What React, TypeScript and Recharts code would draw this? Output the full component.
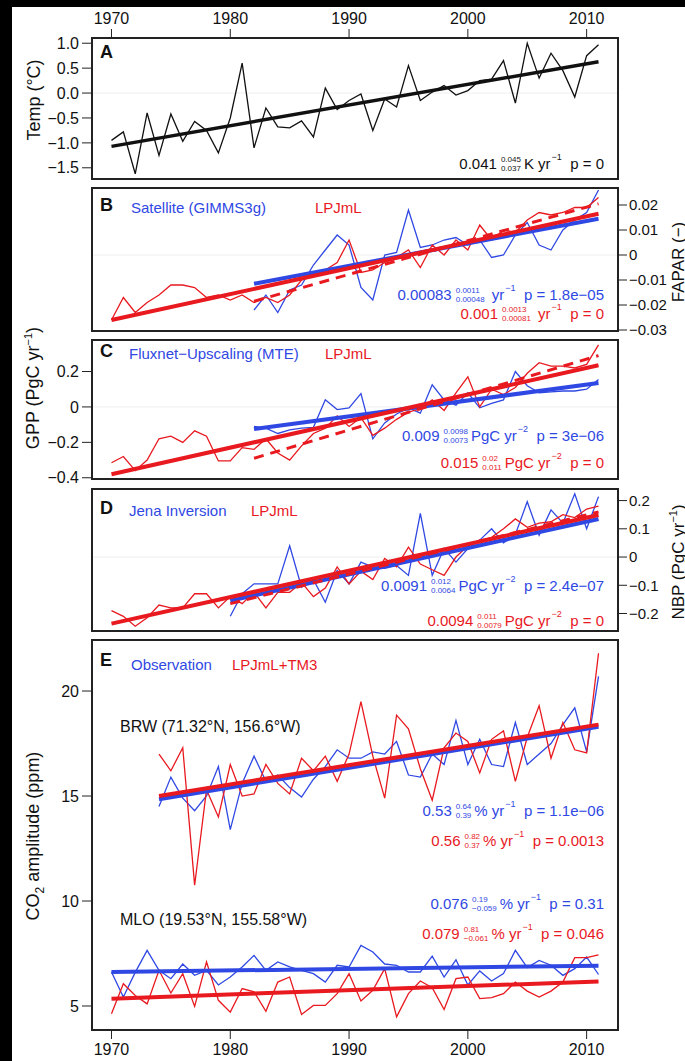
import React from 'react';
import { LineChart, Line, XAxis, YAxis, ReferenceLine } from 'recharts';

const FONT = "'Liberation Sans', Arial, Helvetica, sans-serif";
const BLUE = '#2f48e3';
const RED = '#e8191f';

const years = [
  1970, 1971, 1972, 1973, 1974, 1975, 1976, 1977, 1978, 1979,
  1980, 1981, 1982, 1983, 1984, 1985, 1986, 1987, 1988, 1989,
  1990, 1991, 1992, 1993, 1994, 1995, 1996, 1997, 1998, 1999,
  2000, 2001, 2002, 2003, 2004, 2005, 2006, 2007, 2008, 2009,
  2010, 2011,
];
const years1974 = years.slice(4);
const years1980 = years.slice(10);
const years1982 = years.slice(12);

const xTicks = [1970, 1980, 1990, 2000, 2010];

// A: temperature anomaly
const temp = [
  -0.95, -0.78, -1.62, -0.4, -1.25, -0.42, -0.97, -0.57, -0.75, -1.2,
  -0.5, 0.6, -1.1, -0.3, -0.68, -0.7, -0.56, -0.88, 0.1, -0.33,
  -0.15, -0.02, -0.75, -0.12, -0.28, 0.55, -0.15, 0.02, 0.15, -0.04,
  0.05, 0.25, 0.28, 0.65, -0.2, 1.0, 0.3, 0.8, 0.45, -0.08,
  0.75, 0.97,
];
const tempTrend = [-1.07, 0.63];

// B: FAPAR
const faparModel = [
  -0.026, -0.017, -0.023, -0.019, -0.016, -0.012, -0.012, -0.013, -0.017, -0.016,
  -0.018, -0.016, -0.019, -0.017, -0.019, -0.016, -0.01, -0.008, -0.006, -0.003,
  0.006, -0.007, -0.006, -0.003, -0.001, 0.002, -0.005, 0.004, 0.0, 0.006,
  0.002, 0.012, 0.006, 0.01, 0.009, 0.014, 0.017, 0.016, 0.017, 0.019,
  0.019, 0.023,
];
const faparSat = [
  -0.022, -0.016, -0.023, -0.014, -0.012, -0.004, 0.002, 0.008, 0.004, -0.013,
  -0.018, 0.0, 0.001, 0.018, 0.003, 0.004, 0.006, 0.007, 0.004, 0.006,
  -0.001, 0.0, 0.008, 0.013, 0.004, 0.002, 0.01, 0.014, 0.017, 0.026,
];
const faparModelTrend = [-0.026, 0.0165];
const faparModelTrendSat = [-0.0185, 0.0205];
const faparSatTrend = [-0.0115, 0.0145];

// C: GPP
const gppModel = [
  -0.315, -0.28, -0.36, -0.3, -0.18, -0.165, -0.2, -0.135, -0.165, -0.305,
  -0.305, -0.23, -0.24, -0.18, -0.26, -0.3, -0.22, -0.15, -0.12, -0.05,
  -0.11, -0.06, -0.16, -0.12, -0.07, -0.03, -0.01, 0.04, -0.02, 0.08,
  0.17, 0.0, 0.1, 0.07, 0.11, 0.19, 0.25, 0.23, 0.23, 0.22,
  0.24, 0.35,
];
const gppMte = [
  -0.11, -0.12, -0.15, -0.13, -0.12, -0.115, 0.04, -0.015, -0.005, 0.075,
  -0.18, -0.09, -0.04, -0.005, -0.035, 0.125, 0.04, 0.01, 0.08, -0.005,
  0.02, 0.04, 0.2, 0.12, 0.08, 0.085, 0.09, 0.09, 0.1, 0.155,
];
const gppModelTrend = [-0.38, 0.235];
const gppModelTrendSat = [-0.29, 0.29];
const gppMteTrend = [-0.125, 0.135];

// D: NBP
const nbpModel = [
  -0.19, -0.21, -0.245, -0.215, -0.17, -0.18, -0.18, -0.13, -0.13, -0.18,
  -0.14, -0.165, -0.125, -0.18, -0.125, -0.125, -0.09, -0.14, -0.11, -0.035,
  -0.095, -0.05, -0.08, -0.005, -0.035, 0.035, -0.025, -0.045, -0.065, 0.0,
  0.04, 0.06, 0.07, 0.1, 0.135, 0.105, 0.12, 0.125, 0.15, 0.14,
  0.17, 0.18,
];
const nbpJena = [
  -0.21, -0.13, -0.095, -0.095, -0.095, 0.04, -0.107, -0.08, -0.16, -0.048,
  -0.095, -0.018, -0.036, -0.04, -0.03, -0.065, 0.155, -0.065, 0.03, -0.018,
  0.03, 0.06, 0.1, 0.05, 0.08, 0.196, 0.077, 0.167, 0.12, 0.224,
  0.1, 0.214,
];
const nbpModelTrend = [-0.236, 0.149];
const nbpModelTrendJena = [-0.165, 0.16];
const nbpJenaTrend = [-0.155, 0.135];

// E: CO2 seasonal amplitude
const brwObs = [
  14.5, 15.9, 14.9, 14.3, 15.0, 16.4, 13.4, 15.6, 16.9, 15.7,
  16.0, 15.4, 14.95, 15.8, 16.4, 17.2, 16.8, 16.8, 17.1, 17.0,
  17.6, 16.0, 15.9, 17.0, 16.5, 18.6, 16.5, 17.7, 16.5, 16.4,
  18.5, 16.5, 17.0, 17.5, 18.4, 19.2, 17.1, 20.7,
];
const brwModel = [
  17.0, 16.2, 17.3, 10.75, 15.3, 14.0, 16.5, 15.0, 15.1, 16.5,
  15.6, 15.1, 16.8, 16.2, 16.9, 15.7, 17.0, 19.5, 16.9, 14.9,
  18.85, 18.2, 16.3, 14.8, 17.3, 18.0, 17.6, 16.1, 17.7, 18.1,
  15.7, 17.8, 19.3, 16.8, 18.5, 17.2, 17.05, 21.8,
];
const mloObs = [
  6.62, 5.43, 6.6, 7.65, 6.7, 6.3, 7.0, 6.46, 6.7, 6.0,
  6.38, 6.86, 7.41, 6.7, 7.1, 6.86, 6.7, 6.54, 6.14, 6.94,
  6.86, 7.89, 7.57, 7.0, 6.94, 6.62, 6.62, 7.37, 6.38, 7.2,
  6.0, 6.67, 6.19, 6.54, 7.65, 6.83, 7.17, 6.94, 6.46, 6.78,
  7.33, 6.5,
];
const mloModel = [
  4.63, 6.06, 5.5, 5.1, 6.7, 5.62, 6.54, 4.98, 7.1, 5.27,
  4.71, 5.83, 5.67, 4.75, 6.14, 6.38, 4.6, 5.03, 5.03, 5.59,
  6.54, 5.24, 5.75, 6.78, 4.48, 5.59, 6.19, 5.87, 4.83, 6.3,
  6.38, 5.35, 5.4, 5.59, 6.14, 5.71, 5.43, 5.71, 6.14, 7.3,
  7.3, 7.44,
];
const brwObsTrend = [14.85, 18.3];
const brwModelTrend = [15.0, 18.4];
const mloObsTrend = [6.62, 6.92];
const mloModelTrend = [5.35, 6.17];

const X_DOMAIN: [number, number] = [1968.36, 2012.64];
const ends = (xs: number[]) => [xs[0], xs[xs.length - 1]];

type Series = { key: string; x: number[]; y: number[] };
function rowsOf(series: Series[]) {
  const m = new Map<number, any>();
  series.forEach((s) =>
    s.x.forEach((yr, i) => {
      const r = m.get(yr) ?? { year: yr };
      r[s.key] = s.y[i];
      m.set(yr, r);
    })
  );
  return [...m.values()].sort((a, b) => a.year - b.year);
}

type LineSpec = { key: string; color: string; w: number; dash?: string };

const minus = (s: string) => s.replace('-', '\u2212');
const PAD = 12; // room above/below the plot so edge tick labels are not cut

function Panel(props: {
  top: number;
  plotH: number;
  rows: any[];
  lines: LineSpec[];
  yDomain: [number, number];
  yTicks: number[];
  fmt: (v: number) => string;
  side: 'left' | 'right';
  xAxis: 'top' | 'bottom' | 'none';
  zero?: boolean;
}) {
  const { top, plotH, rows, lines, yDomain, yTicks, fmt, side, xAxis, zero = true } = props;
  const axisH = xAxis === 'top' ? 38 : xAxis === 'bottom' ? 31 : 0;
  const mTop = xAxis === 'top' ? 0 : PAD;
  const mBottom = xAxis === 'bottom' ? 0 : PAD;
  const chartTop = xAxis === 'top' ? top - axisH : top - PAD;
  const tickStyle = { fill: '#111', fontSize: 16, fontFamily: FONT };
  return (
    <>
      <div style={{ position: 'absolute', left: 0, top: chartTop }}>
        <LineChart
          width={685}
          height={plotH + axisH + mTop + mBottom}
          data={rows}
          margin={{ top: mTop, bottom: mBottom, left: side === 'left' ? 0 : 92, right: side === 'right' ? 0 : 67 }}
        >
          <XAxis
            type="number"
            dataKey="year"
            domain={X_DOMAIN}
            allowDataOverflow
            ticks={xTicks}
            interval={0}
            hide={xAxis === 'none'}
            orientation={xAxis === 'top' ? 'top' : 'bottom'}
            height={axisH || 30}
            axisLine={false}
            tickLine={{ stroke: '#222' }}
            tickSize={9}
            tickMargin={5}
            tick={tickStyle}
          />
          <YAxis
            type="number"
            domain={yDomain}
            allowDataOverflow
            ticks={yTicks}
            interval={0}
            orientation={side}
            width={side === 'left' ? 92 : 67}
            axisLine={false}
            tickLine={{ stroke: '#222' }}
            tickSize={side === 'left' ? 10 : 9}
            tickMargin={side === 'left' ? 3 : 2}
            tickFormatter={(v: number) => minus(fmt(v))}
            tick={side === 'left' ? tickStyle : { ...tickStyle, fontSize: 15 }}
          />
          {zero && <ReferenceLine y={0} stroke="#efefef" strokeWidth={1} />}
          {lines.map((l) => (
            <Line
              key={l.key}
              type="linear"
              dataKey={l.key}
              stroke={l.color}
              strokeWidth={l.w}
              strokeDasharray={l.dash}
              dot={false}
              activeDot={false}
              connectNulls
              isAnimationActive={false}
            />
          ))}
        </LineChart>
      </div>
      <div
        style={{
          position: 'absolute',
          left: 91,
          top: top - 1,
          width: 528,
          height: plotH + 2,
          border: '2px solid #222',
          boxSizing: 'border-box',
          pointerEvents: 'none',
        }}
      />
    </>
  );
}

function Stat(props: {
  right: number;
  y: number;
  color: string;
  v: string;
  hi: string;
  lo: string;
  unit: string;
  exp: string;
  p: string;
}) {
  const { right, y, color, v, hi, lo, unit, exp, p } = props;
  return (
    <div
      style={{
        position: 'absolute',
        right: 685 - right,
        top: y - 10,
        height: 20,
        color,
        fontFamily: FONT,
        fontSize: 15,
        whiteSpace: 'pre',
        display: 'flex',
        alignItems: 'center',
      }}
    >
      <span>{v}</span>
      <span
        style={{
          display: 'inline-flex',
          flexDirection: 'column',
          fontSize: 8,
          lineHeight: '9px',
          margin: '2px 3px 0 4px',
        }}
      >
        <span>{hi}</span>
        <span>{lo}</span>
      </span>
      <span>{unit ? unit + ' yr' : ' yr'}</span>
      <span style={{ fontSize: 9, position: 'relative', top: -6, marginLeft: 1 }}>{exp}</span>
      <span>{'  p = ' + p}</span>
    </div>
  );
}

function Txt(props: { x: number; y: number; color?: string; size?: number; bold?: boolean; children: React.ReactNode }) {
  const { x, y, color = '#111', size = 15, bold, children } = props;
  return (
    <div
      style={{
        position: 'absolute',
        left: x,
        top: y - 10,
        lineHeight: '20px',
        color,
        fontSize: size,
        fontWeight: bold ? 'bold' : 'normal',
        fontFamily: bold ? "'Liberation Sans Narrow', " + FONT : FONT,
        whiteSpace: 'pre',
      }}
    >
      {children}
    </div>
  );
}

function VTitle(props: { x: number; y: number; size?: number; children: React.ReactNode }) {
  return (
    <div
      style={{
        position: 'absolute',
        left: props.x,
        top: props.y,
        transform: 'translate(-50%, -50%) rotate(-90deg)',
        fontFamily: FONT,
        fontSize: props.size ?? 18,
        color: '#111',
        whiteSpace: 'pre',
        lineHeight: '20px',
      }}
    >
      {props.children}
    </div>
  );
}

const sup = (s: string) => <span style={{ fontSize: 11, position: 'relative', top: -7 }}>{s}</span>;

export default function App() {
  const rowsA = rowsOf([
    { key: 'temp', x: years, y: temp },
    { key: 'trend', x: ends(years), y: tempTrend },
  ]);
  const rowsB = rowsOf([
    { key: 'obs', x: years1982, y: faparSat },
    { key: 'mod', x: years, y: faparModel },
    { key: 'obsT', x: ends(years1982), y: faparSatTrend },
    { key: 'modT', x: ends(years), y: faparModelTrend },
    { key: 'modTs', x: ends(years1982), y: faparModelTrendSat },
  ]);
  const rowsC = rowsOf([
    { key: 'obs', x: years1982, y: gppMte },
    { key: 'mod', x: years, y: gppModel },
    { key: 'obsT', x: ends(years1982), y: gppMteTrend },
    { key: 'modT', x: ends(years), y: gppModelTrend },
    { key: 'modTs', x: ends(years1982), y: gppModelTrendSat },
  ]);
  const rowsD = rowsOf([
    { key: 'obs', x: years1980, y: nbpJena },
    { key: 'mod', x: years, y: nbpModel },
    { key: 'obsT', x: ends(years1980), y: nbpJenaTrend },
    { key: 'modT', x: ends(years), y: nbpModelTrend },
    { key: 'modTs', x: ends(years1980), y: nbpModelTrendJena },
  ]);
  const rowsE = rowsOf([
    { key: 'brwO', x: years1974, y: brwObs },
    { key: 'brwM', x: years1974, y: brwModel },
    { key: 'mloO', x: years, y: mloObs },
    { key: 'mloM', x: years, y: mloModel },
    { key: 'brwOT', x: ends(years1974), y: brwObsTrend },
    { key: 'brwMT', x: ends(years1974), y: brwModelTrend },
    { key: 'mloOT', x: ends(years), y: mloObsTrend },
    { key: 'mloMT', x: ends(years), y: mloModelTrend },
  ]);

  const stdLines: LineSpec[] = [
    { key: 'obs', color: BLUE, w: 1.3 },
    { key: 'mod', color: RED, w: 1.3 },
    { key: 'obsT', color: BLUE, w: 4 },
    { key: 'modT', color: RED, w: 4 },
    { key: 'modTs', color: RED, w: 3, dash: '10 7' },
  ];

  return (
    <div style={{ position: 'absolute', left: 0, top: 0, width: 685, height: 1061, background: '#fff', overflow: 'hidden' }}>
      <Panel
        top={38}
        plotH={141}
        rows={rowsA}
        lines={[
          { key: 'temp', color: '#111', w: 1.3 },
          { key: 'trend', color: '#111', w: 3.5 },
        ]}
        yDomain={[-1.725, 1.105]}
        yTicks={[-1.5, -1, -0.5, 0, 0.5, 1]}
        fmt={(v) => v.toFixed(1)}
        side="left"
        xAxis="top"
      />
      <Panel
        top={188}
        plotH={143}
        rows={rowsB}
        lines={stdLines}
        yDomain={[-0.0304, 0.0268]}
        yTicks={[-0.03, -0.02, -0.01, 0, 0.01, 0.02]}
        fmt={(v) => String(v)}
        side="right"
        xAxis="none"
      />
      <Panel
        top={340}
        plotH={139}
        rows={rowsC}
        lines={stdLines}
        yDomain={[-0.407, 0.378]}
        yTicks={[-0.4, -0.2, 0, 0.2]}
        fmt={(v) => String(v)}
        side="left"
        xAxis="none"
      />
      <Panel
        top={489}
        plotH={142}
        rows={rowsD}
        lines={stdLines}
        yDomain={[-0.262, 0.241]}
        yTicks={[-0.2, -0.1, 0, 0.1, 0.2]}
        fmt={(v) => String(v)}
        side="right"
        xAxis="none"
      />
      <Panel
        top={640}
        plotH={390}
        rows={rowsE}
        lines={[
          { key: 'brwO', color: BLUE, w: 1.3 },
          { key: 'brwM', color: RED, w: 1.3 },
          { key: 'mloO', color: BLUE, w: 1.3 },
          { key: 'mloM', color: RED, w: 1.3 },
          { key: 'brwOT', color: BLUE, w: 4 },
          { key: 'brwMT', color: RED, w: 4 },
          { key: 'mloOT', color: BLUE, w: 4 },
          { key: 'mloMT', color: RED, w: 4 },
        ]}
        yDomain={[3.857, 22.43]}
        yTicks={[5, 10, 15, 20]}
        fmt={(v) => String(v)}
        side="left"
        xAxis="bottom"
        zero={false}
      />

      {/* panel letters and legends */}
      <Txt x={100} y={52} size={18} bold>A</Txt>
      <Txt x={100} y={205} size={18} bold>B</Txt>
      <Txt x={131} y={208} color={BLUE}>Satellite (GIMMS3g)</Txt>
      <Txt x={315} y={208} color={RED}>LPJmL</Txt>
      <Txt x={100} y={351} size={18} bold>C</Txt>
      <Txt x={129} y={354} color={BLUE}>{'Fluxnet\u2212Upscaling (MTE)'}</Txt>
      <Txt x={325} y={354} color={RED}>LPJmL</Txt>
      <Txt x={100} y={508} size={18} bold>D</Txt>
      <Txt x={129} y={511} color={BLUE}>Jena Inversion</Txt>
      <Txt x={251} y={511} color={RED}>LPJmL</Txt>
      <Txt x={100} y={660} size={18} bold>E</Txt>
      <Txt x={131} y={665} color={BLUE}>Observation</Txt>
      <Txt x={232} y={665} color={RED}>LPJmL+TM3</Txt>
      <Txt x={120} y={727} size={16}>BRW (71.32°N, 156.6°W)</Txt>
      <Txt x={120} y={920} size={16}>MLO (19.53°N, 155.58°W)</Txt>

      {/* trend statistics */}
      <Stat right={604} y={163} color="#111" v="0.041" hi="0.045" lo="0.037" unit="K" exp={'\u22121'} p="0" />
      <Stat right={604} y={294} color={BLUE} v="0.00083" hi="0.0011" lo="0.00048" unit="" exp={'\u22121'} p={'1.8e\u221205'} />
      <Stat right={604} y={313} color={RED} v="0.001" hi="0.0013" lo="0.00081" unit="" exp={'\u22121'} p="0" />
      <Stat right={604} y={435} color={BLUE} v="0.009" hi="0.0098" lo="0.0073" unit="PgC" exp={'\u22122'} p={'3e\u221206'} />
      <Stat right={604} y={462} color={RED} v="0.015" hi="0.02" lo="0.011" unit="PgC" exp={'\u22122'} p="0" />
      <Stat right={604} y={585} color={BLUE} v="0.0091" hi="0.012" lo="0.0064" unit="PgC" exp={'\u22122'} p={'2.4e\u221207'} />
      <Stat right={604} y={620} color={RED} v="0.0094" hi="0.011" lo="0.0079" unit="PgC" exp={'\u22122'} p="0" />
      <Stat right={604} y={810} color={BLUE} v="0.53" hi="0.64" lo="0.39" unit="%" exp={'\u22121'} p={'1.1e\u221206'} />
      <Stat right={604} y={840} color={RED} v="0.56" hi="0.82" lo="0.37" unit="%" exp={'\u22121'} p="0.0013" />
      <Stat right={604} y={903} color={BLUE} v="0.076" hi="0.19" lo={'\u22120.059'} unit="%" exp={'\u22121'} p="0.31" />
      <Stat right={604} y={933} color={RED} v="0.079" hi="0.81" lo={'\u22120.061'} unit="%" exp={'\u22121'} p="0.046" />

      {/* axis titles */}
      <VTitle x={34} y={100}>Temp (°C)</VTitle>
      <VTitle x={34} y={388}>
        <span>GPP (PgC yr</span>
        {sup('\u22121')}
        <span>)</span>
      </VTitle>
      <VTitle x={34} y={836}>
        <span>CO</span>
        <span style={{ fontSize: 12, position: 'relative', top: 5 }}>2</span>
        <span> amplitude (ppm)</span>
      </VTitle>
      <VTitle x={679} y={262} size={17}>{'FAPAR (\u2212)'}</VTitle>
      <VTitle x={679} y={562} size={17}>
        <span>NBP (PgC yr</span>
        {sup('\u22121')}
        <span>)</span>
      </VTitle>

      {/* dark frame edges of the scan */}
      <div style={{ position: 'absolute', left: 0, top: 0, width: 685, height: 7, background: '#000' }} />
      <div style={{ position: 'absolute', left: 0, top: 0, width: 12, height: 1061, background: '#000' }} />
    </div>
  );
}
